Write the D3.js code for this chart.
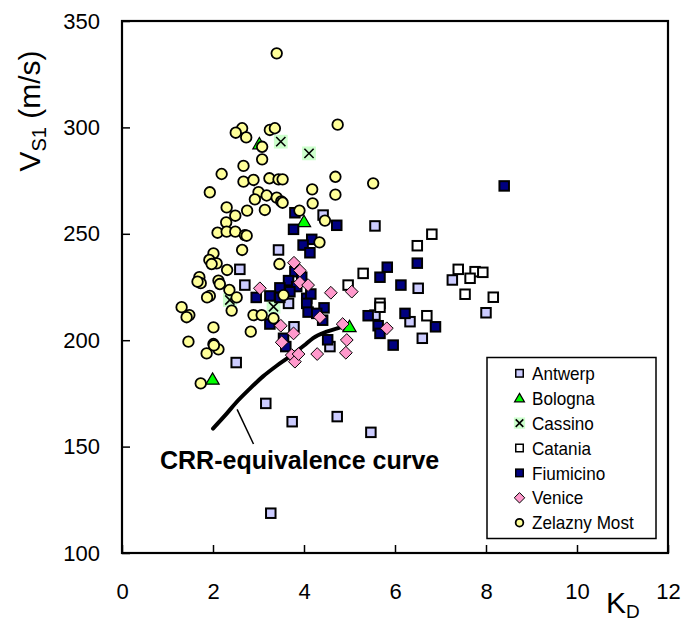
<!DOCTYPE html>
<html><head><meta charset="utf-8">
<script src="https://cdn.jsdelivr.net/npm/d3@7"></script>
<style>
html,body{margin:0;padding:0;background:#fff;}
svg{display:block;font-family:Arial,"Liberation Sans",sans-serif;}
</style></head><body>
<svg id="chart" width="697" height="621"></svg>
<script>
const xTicks=[0,2,4,6,8,10,12];
const yTicks=[100,150,200,250,300,350];
const seriesNames=["Antwerp","Bologna","Cassino","Catania","Fiumicino","Venice","Zelazny Most"];

const antwerp=[[4.42,258.8],[3.44,242.4],[2.59,233.3],[2.70,225.9],[3.66,217.3],[3.78,206.3],[4.57,197.0],[2.51,189.5],[3.16,170.3],[3.74,161.7],[4.73,164.1],[5.47,156.7],[3.27,118.7],[5.56,253.7],[6.51,224.4],[7.26,228.3],[8.00,212.9],[5.56,211.8],[6.33,208.7],[6.60,200.9]];
const bologna=[[3.02,292.2],[4.00,255.7],[5.00,206.3],[1.99,181.6]];
const cassino=[[3.49,293.3],[4.11,287.8],[2.37,218.9],[3.33,215.7]];
const catania=[[6.81,249.8],[6.49,244.4],[5.30,231.4],[4.97,225.9],[7.39,233.3],[7.76,232.2],[7.93,231.9],[7.65,229.1],[7.54,221.6],[8.16,220.2],[5.67,217.3],[5.67,215.5],[6.70,211.5]];
const fiumicino=[[8.40,272.5],[4.72,254.0],[3.80,259.9],[3.77,252.1],[4.17,247.4],[3.98,244.7],[4.13,241.1],[5.83,234.3],[5.67,229.6],[6.49,236.2],[6.13,225.9],[3.80,232.2],[3.95,229.6],[3.66,228.0],[3.84,225.2],[3.47,224.6],[3.69,222.8],[2.95,220.1],[3.25,220.8],[3.47,220.1],[4.06,219.7],[4.15,221.7],[4.06,217.3],[4.09,213.2],[4.44,215.2],[4.41,209.4],[4.28,212.6],[3.25,207.6],[3.55,200.9],[3.60,197.0],[4.52,200.2],[5.41,211.5],[6.22,212.6],[5.63,206.8],[5.67,203.2],[6.89,206.3],[5.96,197.7]];
const venice=[[3.78,236.4],[3.91,232.7],[3.91,227.0],[4.09,225.9],[3.03,224.4],[4.59,222.3],[5.05,222.8],[4.35,210.8],[3.49,206.8],[3.77,203.2],[3.51,199.0],[3.73,193.0],[3.80,189.9],[3.88,193.5],[4.29,193.5],[4.85,207.6],[4.94,200.1],[4.92,194.1],[5.82,205.6]];
const zelazny=[[3.40,334.8],[4.74,301.3],[2.64,299.6],[2.50,297.5],[2.73,295.3],[3.25,298.8],[3.36,299.6],[3.08,290.9],[3.08,285.0],[2.67,281.9],[2.19,278.1],[2.67,274.5],[2.89,275.3],[3.24,276.1],[3.44,275.6],[3.53,275.6],[4.69,276.8],[1.93,269.5],[4.18,270.9],[4.69,268.4],[3.00,269.6],[3.18,268.0],[3.40,267.0],[2.92,266.2],[3.50,265.2],[3.53,264.6],[4.19,264.3],[2.30,262.4],[2.49,258.5],[2.75,260.9],[3.14,261.2],[3.90,260.9],[4.46,256.2],[2.29,255.4],[2.10,250.5],[2.30,251.0],[2.49,251.0],[2.70,249.4],[2.74,249.1],[4.34,246.0],[2.01,240.8],[1.92,237.7],[2.08,236.1],[1.97,235.8],[2.64,242.4],[2.31,233.0],[3.46,235.8],[1.70,229.6],[1.73,226.8],[1.66,227.5],[2.12,228.0],[2.15,226.4],[2.36,223.6],[2.52,220.1],[1.93,220.8],[1.87,220.1],[2.41,213.9],[1.31,215.5],[1.48,211.8],[1.42,210.8],[2.89,211.8],[3.07,211.8],[3.33,210.3],[3.55,221.2],[2.01,206.0],[2.83,204.0],[1.46,199.3],[2.01,198.2],[2.12,195.7],[1.86,193.8],[2.02,197.6],[1.73,179.7],[5.52,273.7]];
const crrCurve=[[2.0,158.5],[2.3,165.5],[2.5,170.5],[2.8,177],[3.1,183],[3.4,188],[3.7,192.5],[4.0,197.5],[4.2,201],[4.5,204],[4.8,206],[5.0,207.5]];
const leaderLine=[[2.53,167.5],[2.89,151.2]];

const svg=d3.select("#chart");
const x=d3.scaleLinear().domain([0,12]).range([122,668]);
const y=d3.scaleLinear().domain([100,350]).range([553,21]);

// axes
const xAxis=d3.axisBottom(x).tickValues(xTicks).tickSizeInner(-8).tickSizeOuter(0).tickPadding(30).tickFormat(d3.format("d"));
const yAxis=d3.axisLeft(y).tickValues(yTicks).tickSizeInner(-8).tickSizeOuter(0).tickPadding(22).tickFormat(d3.format("d"));
const gx=svg.append("g").attr("transform","translate(0,553)").call(xAxis);
const gy=svg.append("g").attr("transform","translate(122,0)").call(yAxis);
[gx,gy].forEach(g=>{
  g.select(".domain").remove();
  g.selectAll(".tick line").attr("stroke","#000").attr("stroke-width",1.5);
  g.selectAll(".tick text").attr("font-size",22).attr("fill","#000").attr("font-family","Arial, 'Liberation Sans', sans-serif");
});

// box
svg.append("rect").attr("x",x(0)).attr("y",y(350)).attr("width",x(12)-x(0)).attr("height",y(100)-y(350))
  .attr("fill","none").attr("stroke","#000").attr("stroke-width",2.2);

// axis titles
const yt=svg.append("text").attr("transform","translate(40,111) rotate(-90)").attr("text-anchor","middle")
  .attr("font-size",30).attr("fill","#000");
yt.append("tspan").text("V");
yt.append("tspan").attr("font-size",20).attr("dy",6).text("S1");
yt.append("tspan").attr("dy",-6).text(" (m/s)");

const kt=svg.append("text").attr("x",606).attr("y",613).attr("font-size",30).attr("fill","#000");
kt.append("tspan").text("K");
kt.append("tspan").attr("font-size",19).attr("dy",5).text("D");

// CRR curve
const line=d3.line().x(d=>x(d[0])).y(d=>y(d[1])).curve(d3.curveMonotoneX);
svg.append("path").datum(crrCurve).attr("d",line).attr("fill","none").attr("stroke","#000").attr("stroke-width",4).attr("stroke-linecap","round");
svg.append("path").datum(leaderLine).attr("d",d3.line().x(d=>x(d[0])).y(d=>y(d[1]))).attr("stroke","#000").attr("stroke-width",1.5);
svg.append("text").attr("x",160).attr("y",469).attr("font-size",25).attr("font-weight","bold").attr("fill","#000").text("CRR-equivalence curve");

// markers
function marker(g,type,cx,cy,s){
  if(type==="sq"||type==="wsq"||type==="nsq"){
    const fill=type==="sq"?"#ccccff":type==="wsq"?"#ffffff":"#000080";
    g.append("rect").attr("x",cx-s/2).attr("y",cy-s/2).attr("width",s).attr("height",s)
      .attr("fill",fill).attr("stroke","#000").attr("stroke-width",s>8?2:1.5);
  } else if(type==="tri"){
    const h=s*0.9;
    g.append("path").attr("d",`M${cx},${cy-h*0.6}L${cx+s*0.55},${cy+h*0.45}L${cx-s*0.55},${cy+h*0.45}Z`)
      .attr("fill","#00ff00").attr("stroke","#000").attr("stroke-width",1.2);
  } else if(type==="x"){
    const b=s*1.25;
    g.append("rect").attr("x",cx-b/2).attr("y",cy-b/2).attr("width",b).attr("height",b).attr("fill","#ccffcc");
    const a=s*0.42;
    g.append("path").attr("d",`M${cx-a},${cy-a}L${cx+a},${cy+a}M${cx-a},${cy+a}L${cx+a},${cy-a}`)
      .attr("stroke","#000").attr("stroke-width",1.6);
  } else if(type==="dia"){
    const a=s*0.58;
    g.append("path").attr("d",`M${cx},${cy-a}L${cx+a},${cy}L${cx},${cy+a}L${cx-a},${cy}Z`)
      .attr("fill","#ff99cc").attr("stroke","#000").attr("stroke-width",1);
  } else if(type==="circ"){
    g.append("circle").attr("cx",cx).attr("cy",cy).attr("r",s*0.48)
      .attr("fill","#ffff99").attr("stroke","#000").attr("stroke-width",1.8);
  }
}
const series=[
  {name:seriesNames[0],data:antwerp,type:"sq"},
  {name:seriesNames[1],data:bologna,type:"tri"},
  {name:seriesNames[2],data:cassino,type:"x"},
  {name:seriesNames[3],data:catania,type:"wsq"},
  {name:seriesNames[4],data:fiumicino,type:"nsq"},
  {name:seriesNames[5],data:venice,type:"dia"},
  {name:seriesNames[6],data:zelazny,type:"circ"}
];
const gm=svg.append("g");
series.forEach(s=>{
  const g=gm.append("g");
  s.data.forEach(d=>marker(g,s.type,x(d[0]),y(d[1]),s.type==="circ"?11:s.type==="dia"?11:s.type==="tri"?12:s.type==="x"?11:9.5));
});

// legend
const lg=svg.append("g");
lg.append("rect").attr("x",487).attr("y",357.5).attr("width",169).attr("height",181)
  .attr("fill","#fff").attr("stroke","#000").attr("stroke-width",1.5);
series.forEach((s,i)=>{
  const cy=373.3+i*24.9;
  marker(lg,s.type,519.5,cy,s.type==="circ"?8:s.type==="dia"?9:s.type==="tri"?9:s.type==="x"?9:7.5);
  const t=lg.append("text").attr("x",532).attr("y",cy).attr("dy","0.35em").attr("font-size",19).attr("fill","#000").text(s.name);
  const len=t.node().getComputedTextLength();
  t.attr("textLength",len*0.9).attr("lengthAdjust","spacingAndGlyphs");
});
</script>
</body></html>
